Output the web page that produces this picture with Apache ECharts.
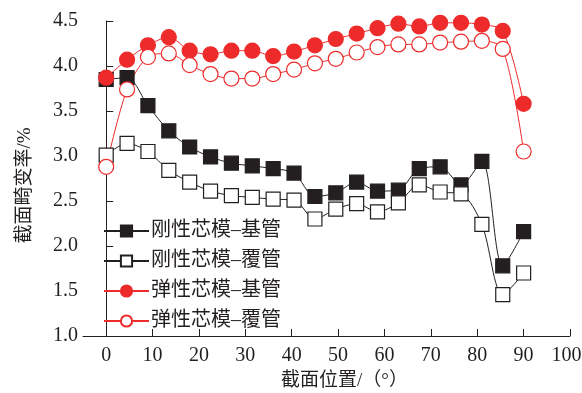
<!DOCTYPE html>
<html>
<head>
<meta charset="utf-8">
<script src="https://cdn.jsdelivr.net/npm/echarts@6/dist/echarts.min.js"></script>
<style>
  html, body { margin: 0; padding: 0; background: #fff; }
  #chart { width: 582px; height: 393px; }
</style>
</head>
<body>
<div id="chart"></div>
<script>
// Section position (degrees)
const positions = [0, 4.5, 9, 13.5, 18, 22.5, 27, 31.5, 36, 40.5, 45, 49.5, 54, 58.5, 63, 67.5, 72, 76.5, 81, 85.5, 90];

// Section distortion rate (%)
const rigidBase   = [3.85, 3.87, 3.56, 3.28, 3.10, 2.99, 2.92, 2.89, 2.86, 2.81, 2.55, 2.59, 2.71, 2.61, 2.62, 2.86, 2.88, 2.68, 2.94, 1.78, 2.16];
const rigidCover  = [3.01, 3.14, 3.05, 2.84, 2.71, 2.61, 2.56, 2.54, 2.52, 2.51, 2.30, 2.41, 2.47, 2.38, 2.48, 2.68, 2.60, 2.58, 2.24, 1.46, 1.70];
const elasticBase = [3.87, 4.07, 4.23, 4.32, 4.17, 4.13, 4.17, 4.17, 4.11, 4.16, 4.23, 4.30, 4.36, 4.42, 4.47, 4.44, 4.48, 4.48, 4.46, 4.39, 3.58];
const elasticCover= [2.88, 3.74, 4.10, 4.14, 4.01, 3.91, 3.86, 3.86, 3.91, 3.96, 4.03, 4.08, 4.15, 4.21, 4.24, 4.24, 4.26, 4.27, 4.28, 4.19, 3.05];

const seriesNames = ['刚性芯模–基管', '刚性芯模–覆管', '弹性芯模–基管', '弹性芯模–覆管'];

const xTicks = [0, 10, 20, 30, 40, 50, 60, 70, 80, 90, 100];
const yTicks = [1.0, 1.5, 2.0, 2.5, 3.0, 3.5, 4.0, 4.5];

const BLACK = '#231f20';
const RED = '#ee2b2b';
const FONT = '"Liberation Serif", "Noto Sans CJK SC", serif';

function pairs(vals) {
  return positions.map((x, i) => [x, vals[i]]);
}

function makeSeries(name, vals, color, symbol, filled, size) {
  return {
    name: name,
    type: 'line',
    data: pairs(vals),
    smooth: 0.3,
    symbol: symbol,
    symbolSize: size,
    showAllSymbol: true,
    lineStyle: { color: color, width: 1 },
    itemStyle: {
      color: filled ? color : '#fff',
      borderColor: color,
      borderWidth: 1.2,
      opacity: 1
    },
    emphasis: { disabled: true },
    z: 2
  };
}

const chart = echarts.init(document.getElementById('chart'), null, { renderer: 'canvas' });

const lastX = xTicks[xTicks.length - 1];

chart.setOption({
  animation: false,
  backgroundColor: '#fff',
  textStyle: { fontFamily: FONT },
  grid: { left: 83, right: 12, top: 21, bottom: 57, containLabel: false, outerBoundsMode: 'none' },
  legend: {
    orient: 'vertical',
    left: 98,
    top: 216,
    itemWidth: 45,
    itemHeight: 14,
    itemGap: 10,
    data: seriesNames,
    textStyle: { fontFamily: FONT, fontSize: 20, color: '#231f20', padding: [0, 0, 0, -3] }
  },
  xAxis: {
    type: 'value',
    min: -5,
    max: 100,
    name: '截面位置/（°）',
    nameLocation: 'middle',
    nameGap: 36,
    nameTextStyle: { fontFamily: FONT, fontSize: 19, color: '#231f20', padding: [0, 0, 0, 36] },
    axisLine: { show: true, lineStyle: { color: BLACK, width: 1 } },
    axisTick: { show: true, inside: true, length: 7, customValues: xTicks, lineStyle: { color: BLACK } },
    axisLabel: {
      customValues: xTicks, fontFamily: FONT, fontSize: 20, color: '#231f20', margin: 10,
      // keep the last label inside the canvas edge
      formatter: v => v === lastX ? '{last|' + v + '}' : String(v),
      rich: { last: { fontFamily: FONT, fontSize: 20, color: '#231f20', padding: [0, 7, 0, 0] } }
    },
    splitLine: { show: false }
  },
  yAxis: {
    type: 'value',
    min: 1.0,
    max: 4.5,
    interval: 0.5,
    name: '截面畸变率/%',
    nameLocation: 'middle',
    nameGap: 48,
    nameTextStyle: { fontFamily: FONT, fontSize: 19, color: '#231f20', padding: [0, 14, 0, 0] },
    axisLine: { show: true, lineStyle: { color: BLACK, width: 1 } },
    axisTick: { show: true, inside: true, length: 7, lineStyle: { color: BLACK } },
    axisLabel: {
      fontFamily: FONT, fontSize: 20, color: '#231f20', margin: 5,
      formatter: v => yTicks.includes(v) ? v.toFixed(1) : ''
    },
    splitLine: { show: false }
  },
  series: [
    makeSeries(seriesNames[0], rigidBase, BLACK, 'rect', true, 14),
    makeSeries(seriesNames[1], rigidCover, BLACK, 'rect', false, 14),
    makeSeries(seriesNames[2], elasticBase, RED, 'circle', true, 15),
    makeSeries(seriesNames[3], elasticCover, RED, 'circle', false, 15)
  ]
});
</script>
</body>
</html>
